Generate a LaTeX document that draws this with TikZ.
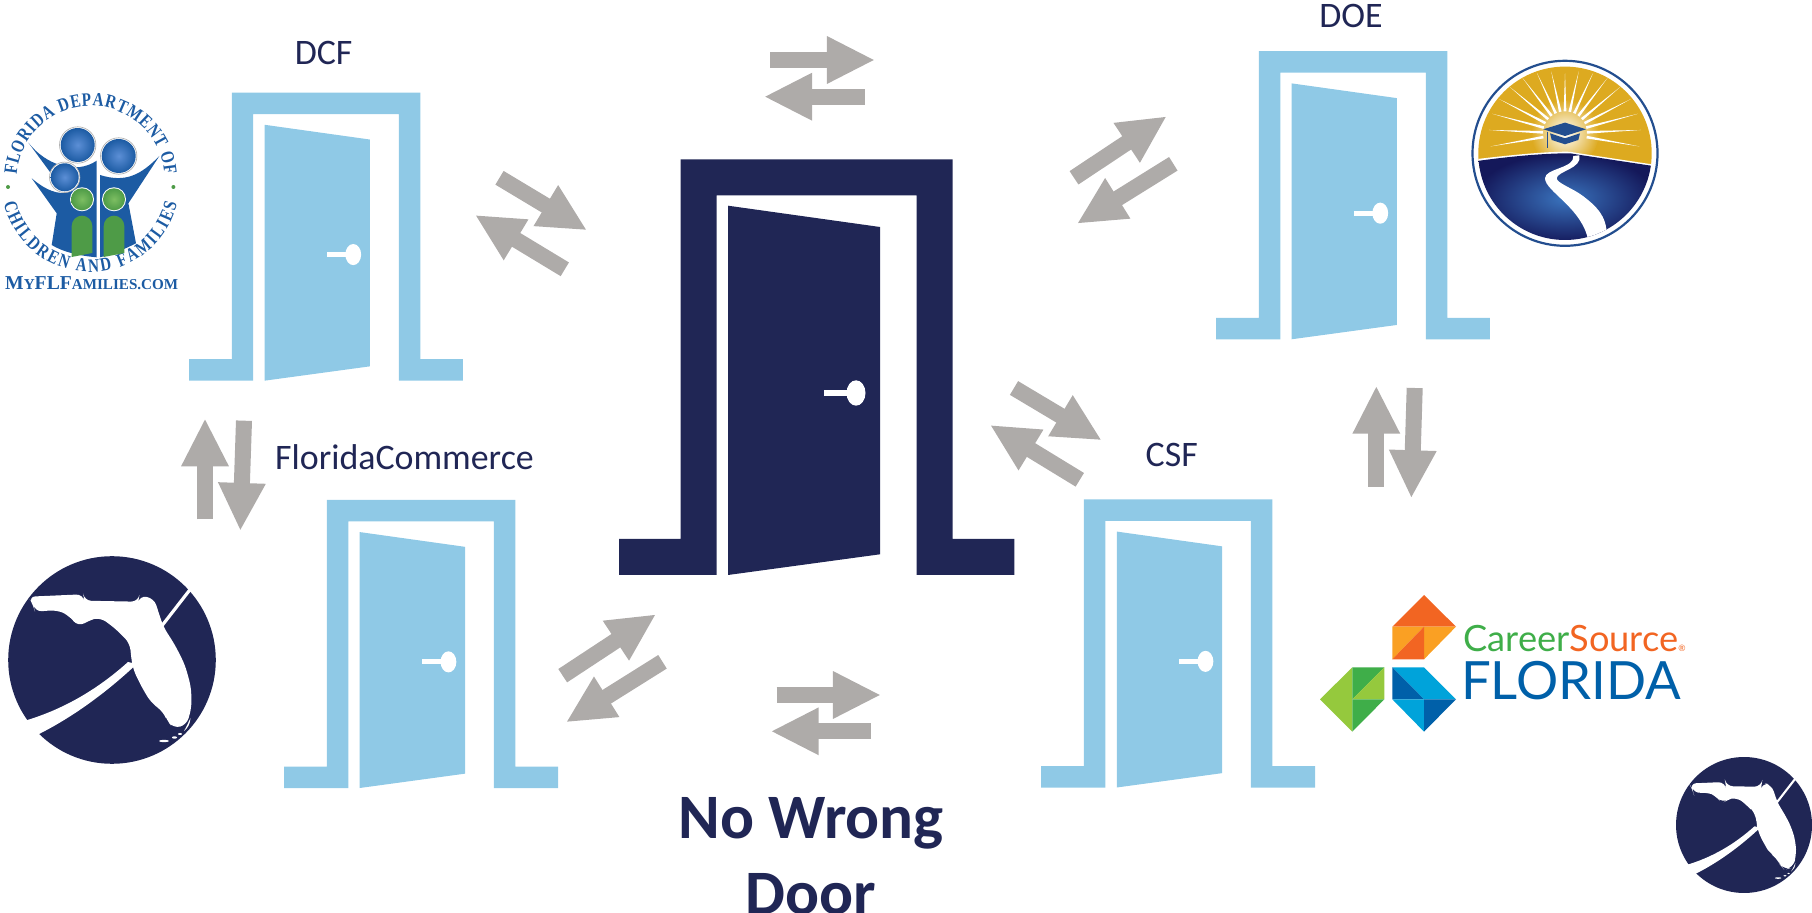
\documentclass[tikz,border=0pt]{standalone}
\usepackage{fontspec}
\setsansfont{Carlito}
\newfontfamily\lgfont{Lato}
\newfontfamily\slfont{Liberation Serif}
\newfontfamily\sltight[FakeStretch=0.8]{Liberation Serif}
\usetikzlibrary{arrows.meta,decorations.text}
\definecolor{DoorNavy}{HTML}{202655}
\definecolor{DoorBlue}{HTML}{8FC9E6}
\definecolor{FlowGray}{HTML}{AEABA9}
\definecolor{SealBlue}{HTML}{1C5BA3}
\definecolor{SealHead}{HTML}{5C8FD6}
\definecolor{SealGreen}{HTML}{4E9B47}
\definecolor{SealLime}{HTML}{7DBE62}
\definecolor{DoeGold}{HTML}{DDAA20}
\definecolor{DoeRing}{HTML}{234E8F}
\definecolor{DoeNavy}{HTML}{14185A}
\definecolor{DoeGlow}{HTML}{3A74BE}
\definecolor{CsOrange}{HTML}{F26522}
\definecolor{CsAmber}{HTML}{FAA023}
\definecolor{CsGreen}{HTML}{3FAE49}
\definecolor{CsLime}{HTML}{95C93D}
\definecolor{CsBlue}{HTML}{0060A9}
\definecolor{CsSky}{HTML}{00A3DA}

% door: x, y (sill, lower left), scale, colour, knob scale, frame thickness
\newcommand{\drawdoor}[6]{
  \begin{scope}[shift={(#1,#2)},scale=#3]
    \fill[#4] (0,0) -- (0,-#6) -- (61.7,-#6) -- (61.7,-415.7) -- (333.7,-415.7) -- (333.7,-#6) -- (395.3,-#6) -- (395.3,0) -- ({333.7-#6},0) -- ({333.7-#6},{-415.7+#6}) -- ({61.7+#6},{-415.7+#6}) -- ({61.7+#6},0) -- cycle;
    \fill[#4] (109,0) -- (109,-369.3) -- (261,-348) -- (261,-20.7) -- cycle;
    \begin{scope}[shift={(237,-182)},scale=#5]
      \fill[white] (0,0) ellipse (9.5 and 12.7);
      \fill[white] (-32,-2.9) rectangle (0,2.9);
    \end{scope}
  \end{scope}
}
% one block arrow
\newcommand{\flowarrow}[3]{
  \coordinate (#1_tail) at (#2);
  \coordinate (#1_tip) at (#3);
  \draw[flow] (#1_tail) -- (#1_tip);
}
% round Florida badge
\newcommand{\drawflorida}[3]{
  \begin{scope}[shift={(#1,#2)},yscale=-1,scale=#3]
    \fill[DoorNavy] (0,0) circle (103.8);
    \fill[white,rounded corners=2] (-83.7,63.3) -- (-28.7,65.7) -- (-27.7,59.3) -- (26.3,58.3) -- (27.3,64.3) -- (42,61.7) -- (51.3,33.3) -- (63,15) -- (73,-5) -- (79,-26.7) -- (79.7,-46.7) -- (74.7,-65) -- (61.3,-68.3) -- (54.7,-60) -- (51.3,-51.7) -- (39.7,-43.3) -- (31.3,-30) -- (21.3,-10) -- (19,3.3) -- (18,16.7) -- (3,31.7) -- (-12,42.7) -- (-22,40) -- (-33.7,33.3) -- (-43.7,45) -- (-55.3,50) -- (-77,48.3) -- (-78.7,55) -- cycle;
    % swooshes
    \fill[white] (48.5,35) -- (78,73) -- (80.5,71) -- (51,33) -- cycle;
    \fill[white] (16,-2) .. controls (-15,-30) and (-50,-50) .. (-88,-61) -- (-77,-76) .. controls (-40,-58) and (-5,-32) .. (24.7,-4) -- cycle;
    % keys
    \fill[white] (78.5,-58) .. controls (78,-64) and (76,-68) .. (72,-71) .. controls (75,-66) and (76.5,-62) .. (78.5,-58) -- cycle;
    \fill[white] (68,-74) ellipse (2 and 1);
    \fill[white] (62.5,-77.5) ellipse (2.5 and 1.2);
    \fill[white] (52,-81) ellipse (5 and 1.2);
  \end{scope}
}

\begin{document}
\begin{tikzpicture}[
    x=0.01cm, y=-0.01cm,
    font=\sffamily,
    flow/.style={draw=FlowGray, line width=0.16cm, -{Triangle[length=0.48cm,width=0.44cm,fill=FlowGray]}},
    label_no/.style={anchor=base, text=DoorNavy, font=\sffamily\fontsize{10.2}{12}\selectfont, inner sep=0pt}
]
  \useasboundingbox (0,0) rectangle (1812,913);

  % =========================================================================
  % DOORS
  % =========================================================================
  \drawdoor{619}{575}{1}{DoorNavy}{1}{36}
  \drawdoor{189}{380.7}{0.693}{DoorBlue}{1.2}{31}
  \drawdoor{284.2}{788}{0.693}{DoorBlue}{1.2}{31}
  \drawdoor{1216}{339.3}{0.693}{DoorBlue}{1.2}{31}
  \drawdoor{1041.2}{787.5}{0.693}{DoorBlue}{1.2}{31}

  % Labels
  \node[label_no] (lbl_dcf) at (323.6,64.7) {DCF};
  \node[label_no] (lbl_doe) at (1351,27.7) {DOE};
  \node[label_no] (lbl_commerce) at (404.5,469.3) {FloridaCommerce};
  \node[label_no] (lbl_csf) at (1171.7,466.7) {CSF};
  \node[anchor=center, align=center, text=DoorNavy, inner sep=0pt, font=\sffamily\bfseries\fontsize{18}{21.5}\selectfont] (lbl_title) at (811,856) {No Wrong\\Door};

  % =========================================================================
  % ARROWS
  % =========================================================================
  \flowarrow{top_r}{770.3,60}{875,60}
  \flowarrow{top_l}{864.7,96.7}{764,96.7}
  \flowarrow{dcf_in}{499.5,177.8}{587,230.3}
  \flowarrow{dcf_out}{564.8,269.3}{475,215}
  \flowarrow{doe_out}{1074,177.8}{1166.7,116.3}
  \flowarrow{doe_in}{1173.3,163.8}{1077,223.7}
  \flowarrow{csf_in}{1014,388}{1101.7,440.3}
  \flowarrow{csf_out}{1079.8,479.8}{990,425}
  \flowarrow{right_up}{1376.3,486.7}{1376.3,385.7}
  \flowarrow{right_down}{1414.7,388}{1411.3,498.3}
  \flowarrow{left_up}{205,519.3}{205,418.3}
  \flowarrow{left_down}{244,420.7}{240.3,531}
  \flowarrow{com_out}{562.7,675.7}{656,614.3}
  \flowarrow{com_in}{662.5,661.8}{566,722.3}
  \flowarrow{low_r}{776.7,695}{881,695}
  \flowarrow{low_l}{871,731.3}{770.7,731.3}

  % =========================================================================
  % DCF SEAL
  % =========================================================================
  \begin{scope}[shift={(90.7,180)},yscale=-1]
    \path[decorate, decoration={text along path, text align=fit to path,
      text={|\sltight\bfseries\fontsize{5.4}{6}\selectfont\color{SealBlue}|FLORIDA DEPARTMENT OF}}]
      (176:74) arc[start angle=176, end angle=4, radius=74];
    \path[decorate, decoration={text along path, text align=fit to path,
      text={|\sltight\bfseries\fontsize{5.4}{6}\selectfont\color{SealBlue}|CHILDREN AND FAMILIES}}]
      (-87,-23) arc[start angle=193, end angle=347, radius=89];
    \fill[SealGreen] (-82.7,-7) circle (2);
    \fill[SealGreen] (82.7,-7) circle (2);
    % figures
    \fill[SealBlue] (-62.3,37.3) .. controls (-45,15) and (-15,5) .. (6,19.3) -- (6,-77.3) .. controls (-10,-76) and (-28,-72) .. (-39,-65) -- (-34,-33.3) -- (-59,1.7) .. controls (-50,-6) and (-38,-14) .. (-25,-13) -- (-40,7) -- cycle;
    \fill[SealBlue] (9.3,5) .. controls (35,-3) and (50,5) .. (68.7,24) -- (37.7,-23.3) -- (45.3,-63.3) .. controls (32,-70) and (20,-75) .. (9.3,-77.3) -- cycle;
    \foreach \hx/\hy/\hr in {-13/35/17, 28/24/17, -26/2.7/14}{
      \fill[white] (\hx,\hy) circle (\hr+1.2);
      \draw[gray!60, line width=0.2pt] (\hx,\hy) circle (\hr+1.2);
      \shade[inner color=SealHead, outer color=SealBlue] (\hx,\hy) circle (\hr);
    }
    \foreach \gx in {-8.7,23.3}{
      \fill[white] (\gx,-19.3) circle (12);
      \shade[inner color=SealLime, outer color=SealGreen] (\gx,-19.3) circle (11);
      \fill[SealGreen] (\gx-10.3,-77) -- (\gx-10.3,-46) arc[start angle=180, end angle=0, radius=10.3] -- (\gx+10.3,-73) -- cycle;
    }
    \node[anchor=base, inner sep=0pt, text=SealBlue, font=\slfont\bfseries\fontsize{4.3}{5}\selectfont] (lbl_site) at (1,-110) {{\fontsize{5.6}{5}\selectfont M}Y{\fontsize{5.6}{5}\selectfont FLF}AMILIES.COM};
  \end{scope}

  % =========================================================================
  % DOE LOGO
  % =========================================================================
  \begin{scope}[shift={(1565,153.3)},yscale=-1]
    \draw[DoeRing, line width=0.022cm] (0,0) circle (92.5);
    \begin{scope}
      \clip (0,0) circle (86.7);
      \fill[DoeGold] (-90,-15) rectangle (90,90);
      \shade[inner color=white, outer color=DoeGold] (0,20) circle (34);
      \begin{scope}[shift={(0,20)}]
        \foreach \a in {-10,2.5,...,190}{
          \pgfmathsetmacro{\rr}{60+16*abs(cos(\a))}
          \fill[white] (\a:\rr) -- ({\a+3.5}:22) -- ({\a-3.5}:22) -- cycle;
        }
      \end{scope}
      \fill[white] (-90,-6) .. controls (-40,0) and (-10,2) .. (5,1.5) -- (14,0) -- (90,-11.5) -- (90,-16) -- (-90,-12) -- cycle;
      \shade[inner color=DoeGlow, outer color=DoeNavy] (-90,-8) .. controls (-40,-1) and (-10,0) .. (5,0) -- (14,-1.5) -- (90,-13) -- (90,-90) -- (-90,-90) -- cycle;
      \fill[white] (8.3,-2.7) .. controls (10,-15) and (-20,-15) .. (-20,-25) .. controls (-20,-38) and (18,-55) .. (23.3,-88) -- (41.7,-82) .. controls (42,-62) and (30,-52) .. (18.3,-43) .. controls (8,-35) and (-8,-30) .. (-8.3,-25) .. controls (-8,-18) and (18,-15) .. (14.3,-2) -- cycle;
    \end{scope}
    % cap
    \fill[DoeRing] (-21.7,24) -- (0,30.7) -- (21,24) -- (0,17.3) -- cycle;
    \fill[DoeRing] (-15,20) -- (0,15) -- (15,20) -- (13.3,13.3) -- (0,9) -- (-13.3,13.3) -- cycle;
    \draw[DoeRing, line width=0.012cm] (-17.3,21.7) -- (-17.3,5);
  \end{scope}

  % =========================================================================
  % CAREERSOURCE LOGO
  % =========================================================================
  \begin{scope}[shift={(1300,570)},scale=0.3333]
    \fill[CsOrange] (277,170) -- (372,75) -- (468,170) -- cycle;
    \fill[CsAmber] (372,170) -- (468,170) -- (372,268) -- cycle;
    \fill[CsAmber] (277,170) -- (372,170) -- (277,268) -- cycle;
    \fill[CsOrange] (372,170) -- (372,268) -- (277,268) -- cycle;
    \fill[CsLime] (60,388) -- (157,292) -- (157,485) -- cycle;
    \fill[CsGreen] (157,292) -- (253,292) -- (157,388) -- cycle;
    \fill[CsLime] (253,292) -- (253,388) -- (157,388) -- cycle;
    \fill[CsGreen] (157,388) -- (253,388) -- (157,485) -- cycle;
    \fill[CsSky] (277,292) -- (372,292) -- (468,388) -- (372,388) -- cycle;
    \fill[CsBlue] (277,292) -- (372,388) -- (277,388) -- cycle;
    \fill[CsSky] (277,388) -- (372,388) -- (372,485) -- cycle;
    \fill[CsBlue] (372,388) -- (468,388) -- (372,485) -- cycle;
    \node[anchor=base west, inner sep=0pt, font=\lgfont\fontsize{10.3}{11}\selectfont] (lbl_career) at (488,245) {\color{CsGreen}Career\color{CsOrange}Source{\fontsize{2.5}{3}\selectfont ®}};
    \node[anchor=base west, inner sep=0pt, text=CsBlue, font=\lgfont\fontsize{15}{16}\selectfont] (lbl_florida) at (481,388) {FLORIDA};
  \end{scope}

  % =========================================================================
  % FLORIDA BADGES
  % =========================================================================
  \drawflorida{112}{660}{1}
  \drawflorida{1744}{825}{0.655}

\end{tikzpicture}
\end{document}
